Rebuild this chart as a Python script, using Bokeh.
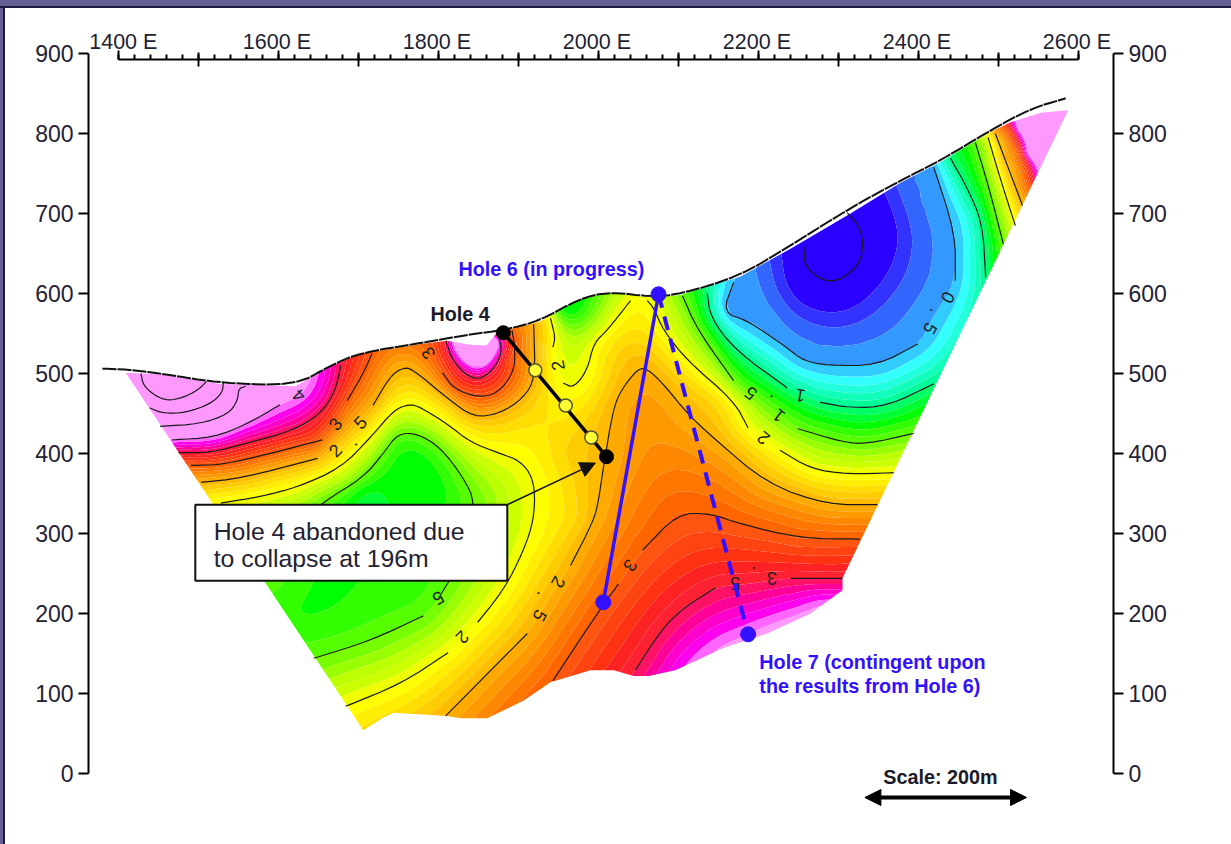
import numpy as np
from bokeh.embed import file_html
from bokeh.resources import INLINE
from bokeh.plotting import figure
from bokeh.core.properties import value
from bokeh.models import (Range1d, LinearAxis, FixedTicker, Arrow, NormalHead, Label)

# ---- axes
y_ticks = [0, 100, 200, 300, 400, 500, 600, 700, 800, 900]
x_major = [1400, 1600, 1800, 2000, 2200, 2400, 2600]
x_mid = [1500, 1700, 1900, 2100, 2300, 2500]
x_minor = list(range(1400, 2601, 20))
x_labels = [f"{e} E" for e in x_major]
x_label_e = [1406, 1598, 1798, 1998, 2198, 2398, 2598]

# ---- topography (E, elevation)
topo = [(1380,506),(1411,505),(1452,500),(1527,488),(1621,485),(1665,510),(1703,526),(1778,538),
        (1840,549),(1881,554),(1927,566),(1977,594),(2015,602),(2065,596),(2102,599),(2177,622),
        (2240,660),(2315,707),(2377,741),(2427,766),(2490,804),(2540,831),(2584,844)]

# ---- outline of the coloured section
section = [(1409,501),(1452,499),(1527,487),(1621,484),(1665,509),(1703,525),(1778,537),(1811,541),
           (1840,536),(1860,535),(1872,550),(1881,553),(1927,565),(1977,593),(2015,601),(2065,595),
           (2102,598),(2177,621),(2240,656),(2315,700),(2377,738),(2427,764),(2490,802),(2515,814),
           (2553,826),(2587,829),(2305,244),(2305,229),(2265,200),(2211,175),(2156,157),(2096,129),
           (2063,122),(2044,122),(2019,129),(1990,129),(1940,114),(1906,91),(1861,69),(1828,69),
           (1811,72),(1744,76),(1731,70),(1706,54)]

# ---- contour lines read from the section; None marks a gap left for a label
GAP = None
c55_pink = [(1428,500),(1431,485),(1446,472),(1462,466),(1481,470),(1499,479),(1510,490)]
c50_pink = [(1439,457),(1456,450),(1484,451),(1515,462),(1530,476),(1531,489)]
c45_pink = [(1452,434),(1502,437),(1537,449),(1549,466),(1550,481),(1559,484)]
c40_pink = [(1467,417),(1519,420),(1561,437),(1602,461)]
c35_left = [(1475,401),(1515,401),(1565,414),(1619,429),(1653,450),(1669,475),(1675,495),(1678,510)]
c30_left = [(1490,385),(1531,386),(1594,401),(1655,417),GAP,(1686,466),(1706,500),(1717,525)]
c25_left = [(1503,364),(1553,369),(1649,394),GAP,(1718,460),(1740,497),(1755,507),(1767,506),
            (1811,469),(1844,445),(1877,450),(1906,469),(1921,494),(1919,562)]
c20_left = [(1528,338),(1577,346),(1624,358),(1678,382),(1715,420),(1744,454),(1761,461),(1774,460),
            (1811,437),(1840,414),(1877,400),(1902,391),(1918,370),(1921,337),(1915,300),(1893,250),
            (1874,220),(1849,189),GAP,(1812,151),(1753,112),(1684,84)]
c20_top = [(1940,569),(1946,545),(1943,533),GAP,(1956,488),(1969,482),(1986,504),(1994,538),(2011,554),(2040,591)]
c20_east = [(2061,591),(2069,582),(2081,554),(2111,516),(2169,466),(2187,432),GAP,(2227,404),(2265,381),(2311,374),(2369,376)]
c25_mid = [(1809,72),(1911,175),GAP,(1965,260),(1994,316),(2000,341),(2006,382),(2018,454),(2028,479),(2049,506),
           (2061,506),(2081,487),(2111,450),(2144,419),(2211,362),(2286,336),(2349,336)]
c30_mid = [(1943,116),(1999,201),(2025,237),GAP,(2055,279),(2099,325),(2140,325),(2177,312),(2252,294),(2327,293)]
c35_right = [(2046,129),(2078,179),(2106,207),(2146,232),GAP,(2240,244),(2305,244)]
c15_east = [(2105,597),(2124,554),(2169,491),GAP,(2249,431),(2306,414),(2336,412),(2394,425)]
c10_east = [(2136,600),(2140,570),(2171,529),(2236,482),GAP,(2277,464),(2315,457),(2361,459),(2419,487)]
c05_loop = [(2169,614),(2155,576),(2187,566),(2236,532),(2256,516),(2286,510),(2349,510),(2399,537),GAP,
            (2446,616),(2446,675),(2419,758)]
c00_core = [(2311,701),(2330,679),(2330,641),(2303,616),(2278,616),(2256,637),(2259,662)]
c10_far = [(2440,769),(2461,732),(2480,688),(2484,620)]
c15_far = [(2471,789),(2478,766),(2490,725),(2506,662)]
c20_far = [(2487,795),(2503,741),(2521,685)]
c25_far = [(2496,800),(2530,710)]
c15_core_top = [(1590,260),(1615,304),(1655,339),(1706,370),(1731,400),(1749,425),(1774,425),(1803,407),(1831,370),(1846,339),(1837,279),(1800,219)]
c15_core_low = [(1781,197),(1715,166),(1644,144)]
c35_peak = [(1809,541),(1819,513),(1844,491),(1865,500),(1880,525),(1875,548)]
c30_peak = [(1805,501),(1819,481),(1849,470),(1874,475),(1894,501),(1896,529),(1892,554)]

drawn_lines = [(5.5,c55_pink),(5.0,c50_pink),(4.5,c45_pink),(4.0,c40_pink),(3.5,c35_left),(3.0,c30_left),
               (2.5,c25_left),(2.0,c20_left),(2.0,c20_top),(2.0,c20_east),(2.5,c25_mid),(3.0,c30_mid),
               (3.5,c35_right),(1.5,c15_east),(1.0,c10_east),(0.5,c05_loop),(0.0,c00_core),(1.0,c10_far),
               (1.5,c15_far),(2.0,c20_far),(2.5,c25_far),(1.5,c15_core_top),(1.5,c15_core_low),
               (3.5,c35_peak),(3.0,c30_peak)]

# ---- colour readings where no contour line is printed
c30_edge = [(2513,800),(2528,770),(2540,729)]
c35_edge = [(2519,804),(2534,770),(2548,735)]
c40_edge = [(2524,806),(2538,770),(2553,744)]
c40_low = [(2156,160),(2211,185),(2280,210)]
c40_peak = [(1819,538),(1831,516),(1849,506),(1865,516),(1874,541)]
c02_ring = [(2359,723),(2374,685),(2374,654),(2353,610),(2315,579),(2284,575),(2252,587),(2234,616),(2230,641)]
c04_ring = [(2394,741),(2417,675),(2415,625),(2390,579),(2353,545),(2299,532),(2249,545),(2211,587),(2199,620)]
read_points = [(-0.1,2296,654),(1.4,1952,575),(1.8,1971,535),(1.25,1753,341),(1.3,1715,254),(1.3,1628,204),
               (1.27,1703,354),(1.27,1803,354),(1.5,1575,251),(4.5,2577,816),(4.5,2559,791),(4.8,1850,530),
               (4.0,1625,472),(3.8,2100,145),(3.0,1784,538),(2.3,1959,404),(2.3,1971,316),(0.47,2180,590)]
read_lines = [(3.0,c30_edge),(3.5,c35_edge),(4.0,c40_edge),(4.0,c40_low),(4.0,c40_peak),(0.2,c02_ring),(0.4,c04_ring)]

# ---- colour bands
band_levels = [-5,.2,.3,.4,.5,.6,.7,.8,.9,1.0,1.1,1.2,1.3,1.4,1.5,1.6,1.7,1.8,1.9,2.0,2.1,2.2,2.3,2.4,2.5,
               2.6,2.7,2.8,2.9,3.0,3.1,3.2,3.3,3.4,3.5,3.6,3.7,3.8,3.9,4.0,9]
band_colors = ["#2a00ff","#3333ff","#3366ff","#3399ff","#33ccff","#33ffff","#22ffdd","#11ffbb","#00ff99","#00ff66",
               "#00ff33","#00ff00","#33ff00","#55ff00","#77ff00","#99ff00","#bbff00","#ccff00","#eeff00","#ffff00",
               "#ffee00","#ffdd00","#ffcc00","#ffbb00","#ffaa00","#ff9900","#ff8800","#ff7700","#ff6600","#ff5511",
               "#ff4411","#ff3311","#ff2222","#ff2233","#ff1166","#ff0099","#ff00cc","#ff00ee","#ff66ff","#ff99ff"]

# ---- drill holes
hole4_e = [1881, 2010]; hole4_z = [551, 396]
hole4_samples_e = [1921, 1959, 1991]; hole4_samples_z = [504, 460, 420]
hole6_e = [2075, 2006]; hole6_z = [599, 214]
hole7_e = [2075, 2187]; hole7_z = [599, 174]

# ---- contour labels: text, E, elevation, angle
contour_labels = [("4",1625,472,135),("3",1671,437,50),("2",1671,404,45),(".",1692,416,45),("5",1702,439,45),
                  ("3",1787,525,125),("2",1949,510,100),("2",1830,170,-135),("5",1800,219,-150),
                  ("2",1950,239,-119),(".",1931,222,-119),("5",1927,197,-119),("3",2040,260,-125),
                  ("3",2217,244,180),(".",2194,250,180),("5",2171,238,180),
                  ("5",2190,475,142),(".",2212,466,142),("1",2225,447,142),("1",2252,472,170),
                  ("2",2206,419,140),("0",2437,595,-120),(".",2422,576,-120),("5",2415,556,-120)]

# ---- annotation
note_box_e = [1496, 1886]; note_box_z = [241, 336]
note_lines = ["Hole 4 abandoned due", "to collapse at 196m"]
note_e = [1519, 1519]; note_z = [302, 269]
note_arrow_e = [1886, 1996]; note_arrow_z = [336, 388]
blue_labels = ["Hole 6 (in progress)", "Hole 7 (contingent upon", "the results from Hole 6)"]
blue_e = [1825, 2201, 2201]; blue_z = [631, 140, 110]
black_labels = ["Hole 4", "Scale: 200m"]
black_e = [1790, 2356]; black_z = [574, -4]
scale_e = [2333, 2535]; scale_z = -30
x_label_z = 915


def pieces(line):
    out, cur = [], []
    for pt in line:
        if pt is None:
            out.append(cur); cur = []
        else:
            cur.append(pt)
    out.append(cur)
    return out


def chaikin(pts, n=2):
    a = np.asarray(pts, float)
    for _ in range(n):
        if len(a) < 3:
            break
        q = .75 * a[:-1] + .25 * a[1:]
        r = .25 * a[:-1] + .75 * a[1:]
        b = np.empty((2 * len(q), 2)); b[0::2] = q; b[1::2] = r
        a = np.vstack([a[:1], b, a[-1:]])
    return a


def sample(line, step=25.0):
    a = np.asarray([p for p in line if p is not None], float)
    d = np.r_[0, np.cumsum(np.hypot(*np.diff(a, axis=0).T))]
    t = np.linspace(0, d[-1], max(int(d[-1] / step), 1) + 1)
    return np.c_[np.interp(t, d, a[:, 0]), np.interp(t, d, a[:, 1])]


# surface fitted through the values, only to shade between the contours
pts, vals = [], []
for v, line in drawn_lines + read_lines:
    s = sample(line)
    pts.append(s); vals.append(np.full(len(s), v))
rp = np.array(read_points, float)
pts.append(rp[:, 1:]); vals.append(rp[:, 0])
P = np.vstack(pts) / 100.0
V = np.concatenate(vals)


def tps(r2):
    return 0.5 * r2 * np.log(r2 + 1e-9)


d2 = ((P[:, None, :] - P[None, :, :]) ** 2).sum(-1)
K = tps(d2) + 0.002 * np.eye(len(P))
A = np.c_[np.ones(len(P)), P]
M = np.block([[K, A], [A.T, np.zeros((3, 3))]])
coef = np.linalg.solve(M, np.r_[V, np.zeros(3)])

grid_e = np.arange(1380.0, 2611.0, 5.0)
grid_z = np.arange(40.0, 861.0, 5.0)
field = np.empty((len(grid_z), len(grid_e)))
for i, z in enumerate(grid_z):
    q = np.c_[grid_e, np.full(len(grid_e), z)] / 100.0
    dq = ((q[:, None, :] - P[None, :, :]) ** 2).sum(-1)
    field[i] = tps(dq) @ coef[:len(P)] + np.c_[np.ones(len(q)), q] @ coef[len(P):]
field = np.clip(field, -4.9, 8.9)

FONT = "Liberation Sans"
E0, E1 = 1362.5, 2643.75
Z0, Z1 = -58.75, 935.0
p = figure(output_backend="svg", toolbar_location=None, x_axis_type=None, y_axis_type=None,
           frame_width=1025, frame_height=795, min_border_left=88, min_border_right=116,
           min_border_top=25, min_border_bottom=22,
           x_range=Range1d(E0, E1), y_range=Range1d(Z0, Z1))
p.grid.visible = False
p.outline_line_color = None
p.background_fill_color = "white"
p.border_fill_color = None

cr = p.contour(grid_e, grid_z, field, band_levels, fill_color=band_colors)
g = cr.fill_renderer.glyph
g.line_color = g.fill_color
g.line_width = 0.6

# white mask outside the section
box_e = [E0, E1, E1, E0]
box_z = [Z0, Z0, Z1, Z1]
sec = np.array(section, float)
p.multi_polygons(xs=[[[box_e, sec[:, 0].tolist()]]], ys=[[[box_z, sec[:, 1].tolist()]]],
                 fill_color="white", line_color=None)

# contour lines
xs, ys = [], []
for v, line in drawn_lines:
    for seg in pieces(line):
        c = chaikin(seg)
        xs.append(c[:, 0].tolist()); ys.append(c[:, 1].tolist())
p.multi_line(xs, ys, line_color="#1a1a1a", line_width=1.2)

tp = chaikin(topo)
p.line(tp[:, 0], tp[:, 1], line_color="#111111", line_width=2, line_dash="14 1")

t, te, tz, ta = zip(*contour_labels)
p.text(list(te), list(tz), text=list(t), angle=list(ta), angle_units="deg", text_font=value(FONT),
       text_font_size="18px", text_color="#222222", text_align="center", text_baseline="middle")

# holes
p.line(hole4_e, hole4_z, line_color="black", line_width=3.5)
p.scatter(hole4_e, hole4_z, size=14, fill_color="black", line_color="black")
p.scatter(hole4_samples_e, hole4_samples_z, size=13, fill_color="#ffff33", line_color="#555533", line_width=1.5)
BLUE = "#3311ff"
p.line(hole7_e, hole7_z, line_color=BLUE, line_width=4, line_dash="14 9")
p.line(hole6_e, hole6_z, line_color=BLUE, line_width=3.5)
p.scatter(hole6_e + hole7_e[1:], hole6_z + hole7_z[1:], size=15, fill_color=BLUE, line_color=BLUE)

# note
p.quad(left=[note_box_e[0]], right=[note_box_e[1]], bottom=[note_box_z[0]], top=[note_box_z[1]],
       fill_color="white", line_color="#111111", line_width=2)
p.text(note_e, note_z, text=note_lines, text_font=value(FONT), text_font_size="24.8px", text_color="#222233",
       text_baseline="middle")
p.add_layout(Arrow(end=NormalHead(size=15, fill_color="#111111", line_color="#111111"),
                   x_start=note_arrow_e[0], y_start=note_arrow_z[0], x_end=note_arrow_e[1], y_end=note_arrow_z[1],
                   line_color="#111111", line_width=1.5))
p.text(blue_e, blue_z, text=blue_labels, text_font=value(FONT), text_font_size="19.8px", text_font_style="bold",
       text_color=BLUE, text_baseline="middle")
p.text(black_e, black_z, text=black_labels, text_font=value(FONT), text_font_size="19.8px", text_font_style="bold",
       text_color="#1a1a2a", text_baseline="middle")
p.add_layout(Arrow(start=NormalHead(size=16, fill_color="black", line_color="black"),
                   end=NormalHead(size=16, fill_color="black", line_color="black"),
                   x_start=scale_e[0], y_start=scale_z, x_end=scale_e[1], y_end=scale_z,
                   line_color="black", line_width=4))

# E labels of the top scale
for e, label in zip(x_label_e, x_labels):
    p.add_layout(Label(x=e, y=x_label_z, text=label, text_font=FONT, text_font_size="21.5px",
                       text_color="#222233", text_align="center", text_baseline="middle"))


# axes
def style_y(ax):
    ax.ticker = FixedTicker(ticks=y_ticks)
    ax.bounds = (0, 900)
    ax.axis_line_width = 2
    ax.major_tick_line_width = 2
    ax.major_tick_in = 0
    ax.major_tick_out = 10
    ax.minor_tick_line_color = None
    ax.major_label_text_font = FONT
    ax.major_label_text_font_size = "23px"
    ax.major_label_text_color = "#222233"
    ax.major_label_standoff = 5


left = LinearAxis(); style_y(left); p.add_layout(left, "left")
right = LinearAxis(); style_y(right); p.add_layout(right, "right")

top = LinearAxis(fixed_location=892.5, bounds=(1400, 2600))
top.ticker = FixedTicker(ticks=x_major, minor_ticks=x_minor)
top.major_label_overrides = {e: "" for e in x_major}
top.axis_line_width = 2
top.major_tick_line_width = 2
top.minor_tick_line_width = 2
top.major_tick_in = 0
top.major_tick_out = 9
top.minor_tick_in = 0
top.minor_tick_out = 5
top.major_label_standoff = 0
p.add_layout(top, "above")

mid = LinearAxis(fixed_location=892.5, bounds=(1400, 2600))
mid.ticker = FixedTicker(ticks=x_mid)
mid.major_label_overrides = {e: "" for e in x_mid}
mid.axis_line_color = None
mid.major_tick_line_width = 2
mid.major_tick_in = 7
mid.major_tick_out = 7
mid.minor_tick_line_color = None
p.add_layout(mid, "above")

html = file_html(p, INLINE)
frame_css = ("<style>html{background:"
             "linear-gradient(#1c1a45,#1c1a45) 0 6px/100% 2px no-repeat,"
             "linear-gradient(#666195,#666195) 0 0/100% 6px no-repeat,"
             "linear-gradient(#1c1a45,#1c1a45) 3px 0/2px 100% no-repeat,"
             "linear-gradient(#666195,#666195) 0 0/3px 100% no-repeat,#fff}</style>")
html = html.replace("</head>", frame_css + "</head>", 1)
open("out.html", "w").write(html)
